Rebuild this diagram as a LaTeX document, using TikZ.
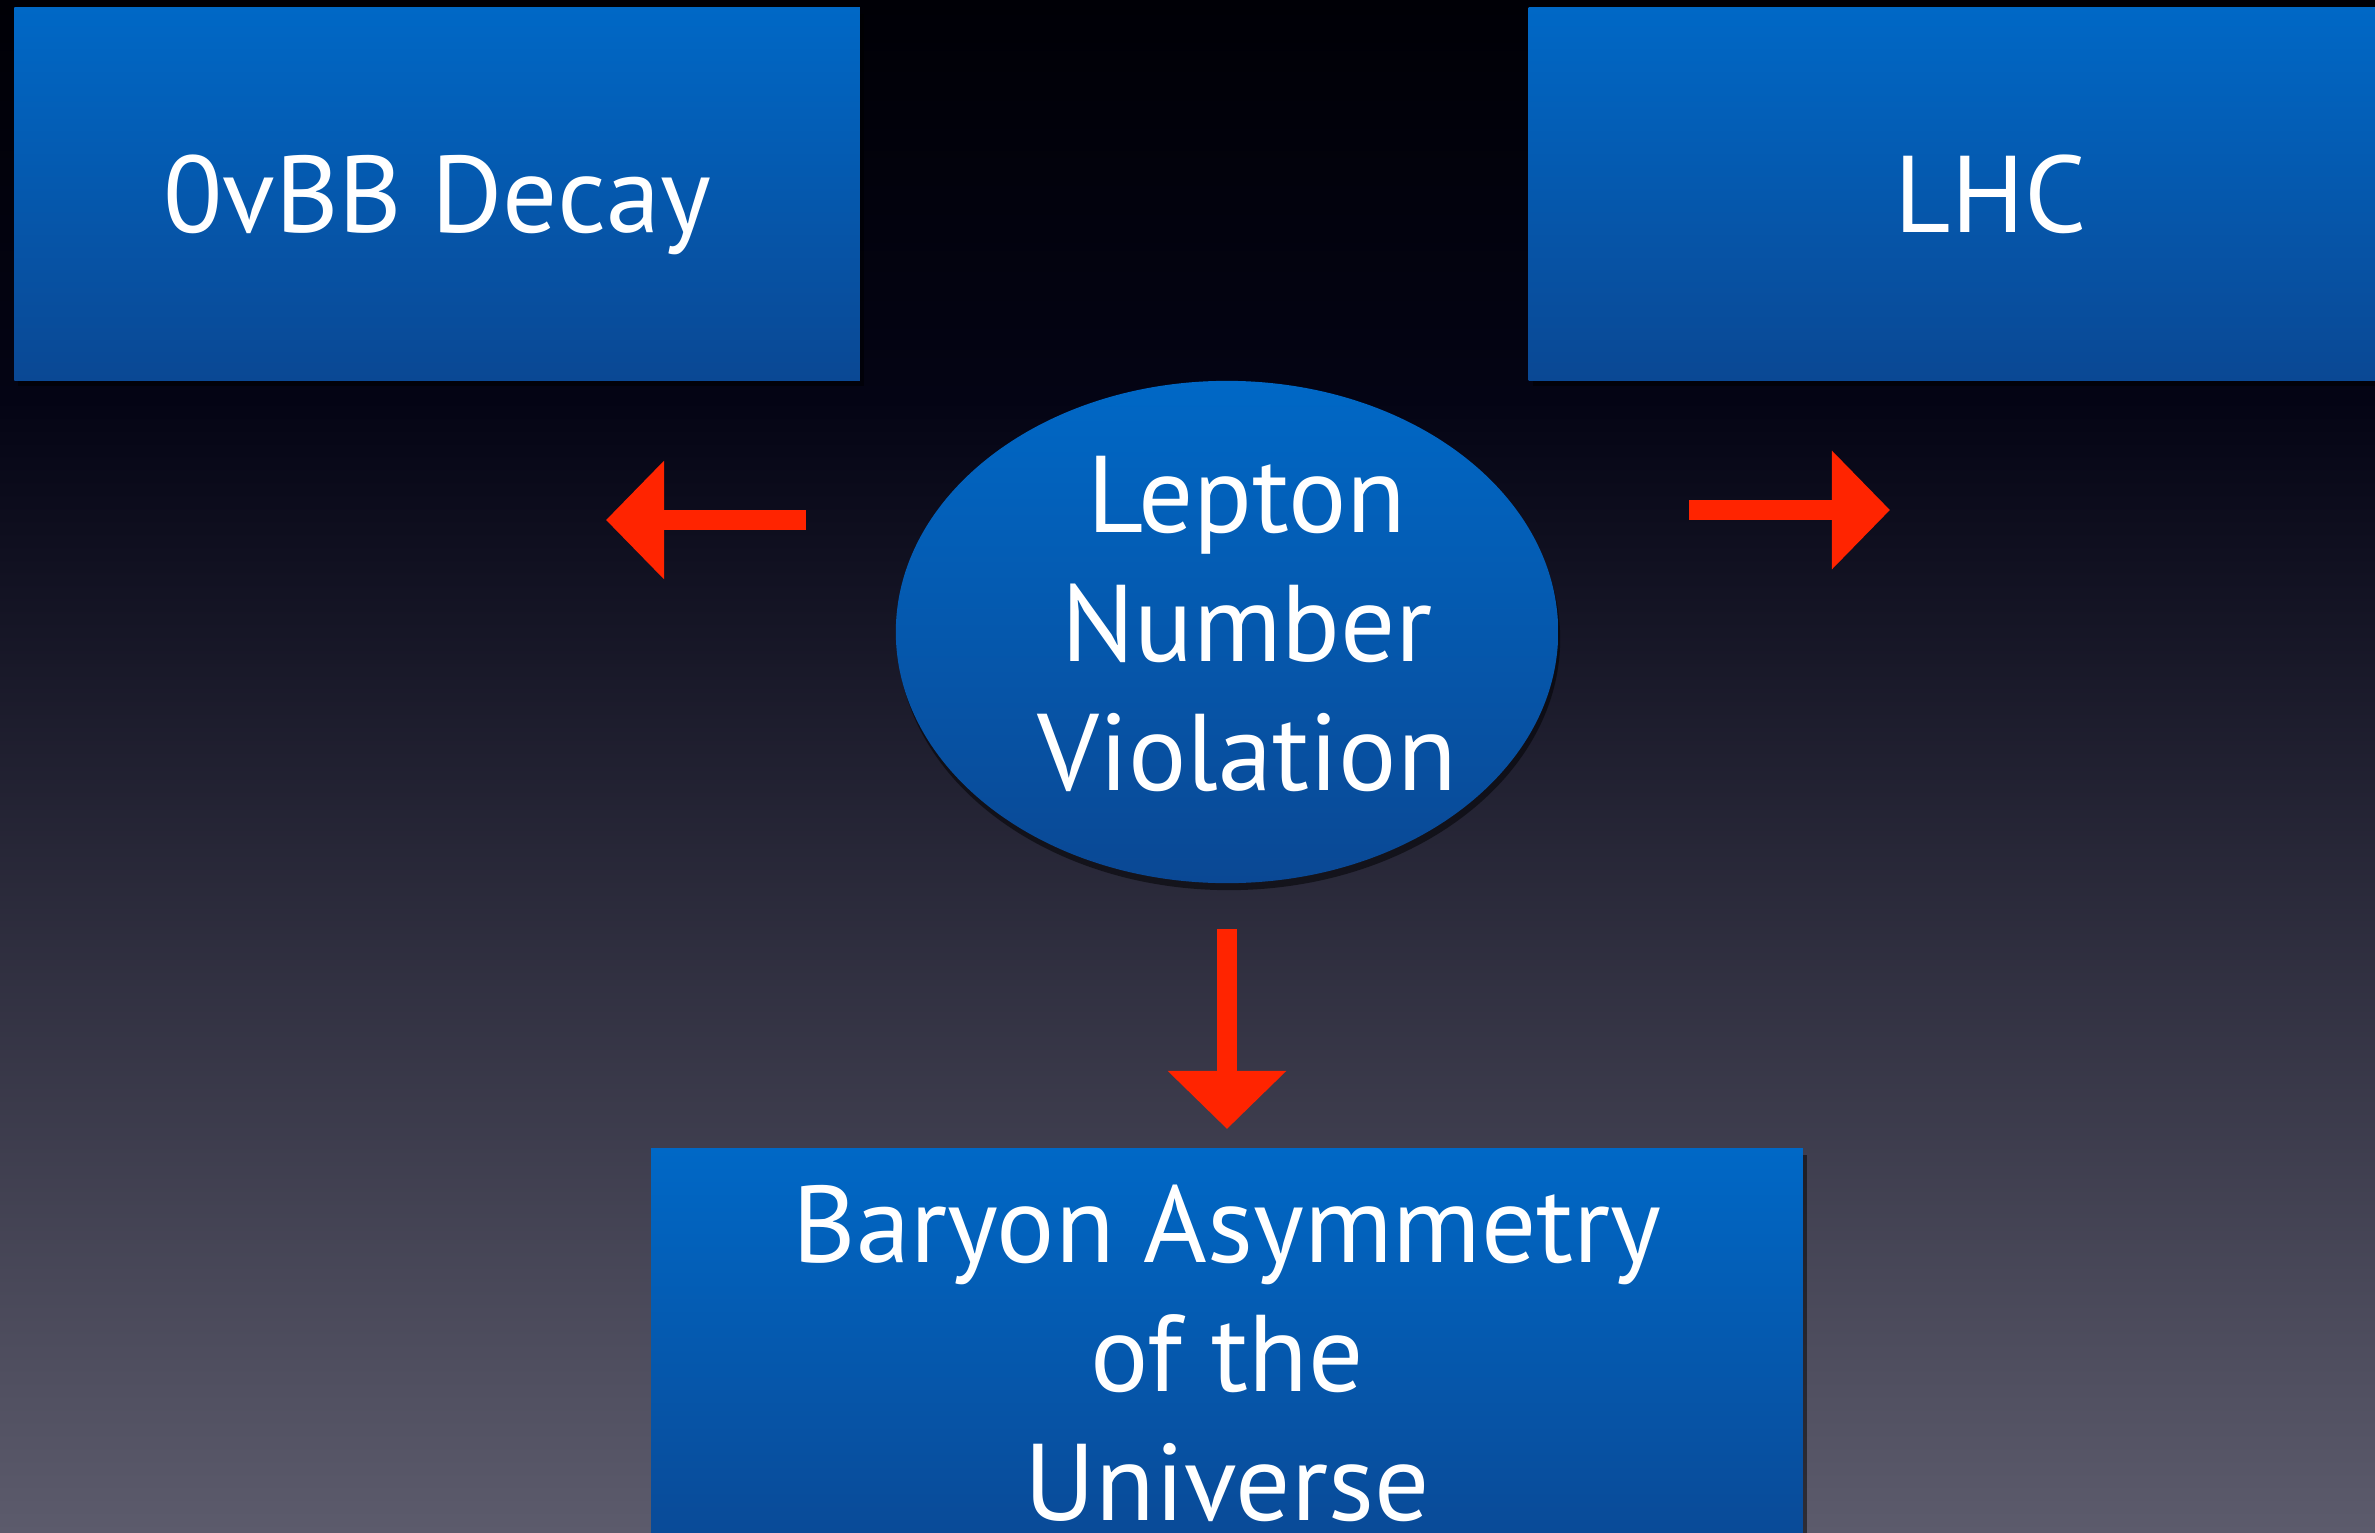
\documentclass[tikz,border=0pt]{standalone}
\usepackage{fontspec}
\setsansfont{PT Sans}
\usetikzlibrary{
  shapes.geometric,
  shadows,
  positioning,
  calc,
  arrows.meta}
\definecolor{boxtopcolor}{RGB}{0,104,198}
\definecolor{boxbottomcolor}{RGB}{10,72,148}
\definecolor{arrowcolor}{RGB}{255,36,0}
\definecolor{bgtopcolor}{RGB}{0,0,6}
\definecolor{bgmidcolor}{RGB}{4,4,20}
\definecolor{bgcentercolor}{RGB}{40,40,62}
\definecolor{bgbottomcolor}{RGB}{92,91,108}
\tikzset{
  %% topic : a blue box with a topic
  topic/.style={
    rectangle,
    top color=boxtopcolor,
    bottom color=boxbottomcolor,
    text=white,
    text depth=0pt,
    drop shadow={fill=black, opacity=0.5,
      shadow xshift=0.04cm, shadow yshift=-0.06cm},
    minimum width=8.45cm,
    minimum height=3.72cm,
    align=center
  },
  %% core : the central ellipse
  core/.style={
    ellipse,
    top color=boxtopcolor,
    bottom color=boxbottomcolor,
    text=white,
    text depth=0.17cm,
    drop shadow={fill=black, opacity=0.5,
      shadow xshift=0.02cm, shadow yshift=-0.07cm},
    minimum width=6.62cm,
    minimum height=5.02cm,
    inner sep=-1cm,
    align=center
  },
  %% redarrow : a red arrow between the topics
  redarrow/.style={
    arrowcolor,
    line width=0.2cm,
    -{Triangle[length=0.58cm, width=1.15cm]}
  }
}

\begin{document}
\begin{tikzpicture}
  [x=0.01cm,
  y=-0.01cm,
  align=center,
  node distance=2.64cm and 6.67cm]
  \sffamily
  \fontsize{31}{36.7}\selectfont

  %% Background
  \useasboundingbox (0, 0) rectangle (2375, 1533);
  \shade [top color=bgtopcolor, bottom color=bgmidcolor]
  (0, 0) rectangle (2375, 400);
  \shade [top color=bgmidcolor, middle color=bgcentercolor,
  bottom color=bgbottomcolor] (0, 399) rectangle (2375, 1533);

  %% Topics
  \node (decay) [topic] at (437, 194) {%
    0vBB Decay%
  };

  \node (lhc) [right=of decay, topic, minimum width=9.24cm]{%
    LHC%
  };

  \node (lnv) [core] at (1227, 632) {%
    \hspace*{0.4cm}Lepton\\
    \hspace*{0.4cm}Number\\
    \hspace*{0.4cm}Violation%
  };

  \node (baryon) [below=of lnv, topic, text depth=0.08cm,
  minimum width=11.51cm, minimum height=4.12cm]{%
    Baryon Asymmetry\\
    of the\\
    Universe%
  };

  %% Arrows
  \coordinate (leftfrom) at (806, 520);
  \coordinate (leftto) at (606, 520);
  \draw [redarrow] (leftfrom) -- (leftto);

  \coordinate (rightfrom) at (1689, 510);
  \coordinate (rightto) at (1890, 510);
  \draw [redarrow] (rightfrom) -- (rightto);

  \draw [redarrow, shorten <=0.45cm, shorten >=0.19cm] (lnv) -- (baryon);

\end{tikzpicture}
\end{document}
